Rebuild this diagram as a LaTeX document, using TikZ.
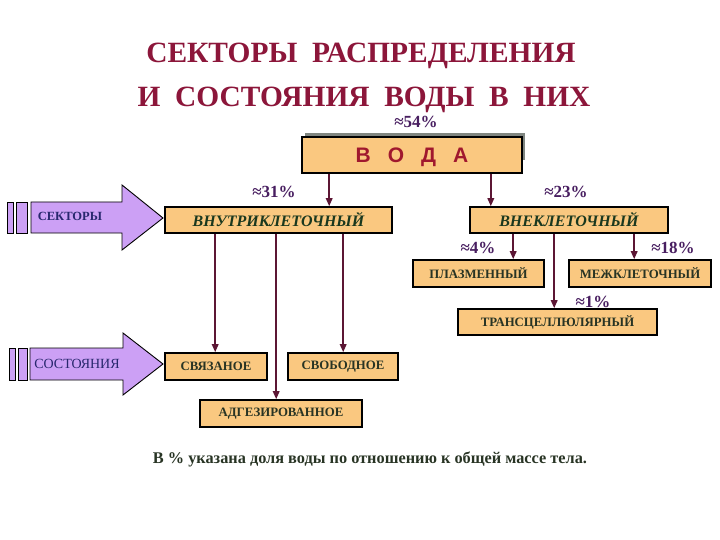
\documentclass[tikz,border=0pt]{standalone}
\usepackage{fontspec}
\setmainfont{Liberation Serif}
\newfontfamily\boxsans{Liberation Sans}
\usetikzlibrary{arrows.meta,calc}
\definecolor{titlered}{RGB}{140,22,58}
\definecolor{boxfill}{RGB}{250,200,128}
\definecolor{pctcol}{RGB}{72,30,96}
\definecolor{conncol}{RGB}{92,22,52}
\definecolor{greentext}{RGB}{26,56,30}
\definecolor{smalltext}{RGB}{40,52,36}
\definecolor{lavender}{RGB}{204,160,245}
\definecolor{navytext}{RGB}{40,40,110}
\definecolor{vodared}{RGB}{160,24,46}
\definecolor{shadowgray}{RGB}{128,134,128}
\begin{document}
\begin{tikzpicture}[x=1pt,y=-1pt,
  wbox/.style={draw=black, line width=1.6pt, fill=boxfill, inner sep=0pt},
  smallbox/.style={wbox, font=\fontsize{12.8}{13}\selectfont\bfseries, text=smalltext},
  bigbox/.style={wbox, font=\fontsize{16}{17}\selectfont\bfseries\itshape, text=greentext},
  pct/.style={font=\fontsize{17}{18}\selectfont\bfseries, text=pctcol, anchor=base},
  conn/.style={draw=conncol, line width=1.7pt, -{Triangle[length=8pt,width=6.5pt]}},
  sidearrow/.style={draw=black, line width=0.9pt, fill=lavender},
  titletext/.style={font=\fontsize{29.4}{30}\selectfont\bfseries, text=titlered, anchor=base}
]
\useasboundingbox (0,0) rectangle (720,540);
\fill[white] (0,0) rectangle (720,540);

% title
\node[titletext] (t1) at (361,63) {СЕКТОРЫ\ \ РАСПРЕДЕЛЕНИЯ};
\node[titletext] (t2) at (364,107) {И\ \ СОСТОЯНИЯ\ \ ВОДЫ\ \ В\ \ НИХ};

% voda
\fill[shadowgray] (305,133) rectangle (525,160);
\node[wbox, minimum width=220pt, minimum height=36pt, text depth=0pt,
  font=\boxsans\fontsize{21}{22}\selectfont\bfseries, text=vodared] (voda) at (412,155) {В\hspace{17pt}О\hspace{17pt}Д\hspace{17pt}А};
\node[pct] (p54) at (416,128) {≈54\%};

% sectors
\node[bigbox, minimum width=227pt, minimum height=26pt] (vnutri) at (278.5,220) {ВНУТРИКЛЕТОЧНЫЙ};
\node[bigbox, minimum width=198pt, minimum height=26pt] (vnekl) at (569,220) {ВНЕКЛЕТОЧНЫЙ};
\node[pct] (p31) at (274,198) {≈31\%};
\node[pct] (p23) at (566,198) {≈23\%};

\node[smallbox, minimum width=131pt, minimum height=27pt] (plazm) at (478.5,273.5) {ПЛАЗМЕННЫЙ};
\node[smallbox, minimum width=142pt, minimum height=27pt] (mezh) at (640,273.5) {МЕЖКЛЕТОЧНЫЙ};
\node[smallbox, minimum width=199pt, minimum height=26pt] (trans) at (557.5,322) {ТРАНСЦЕЛЛЮЛЯРНЫЙ};
\node[pct] (p4) at (478,253) {≈4\%};
\node[pct] (p18) at (673,253) {≈18\%};
\node[pct] (p1) at (593,307) {≈1\%};

% states
\node[smallbox, minimum width=102pt, minimum height=27pt] (svyaz) at (216,366.5) {СВЯЗАНОЕ};
\node[smallbox, minimum width=110pt, minimum height=27pt] (svob) at (343,366.5) {СВОБОДНОЕ};
\node[smallbox, minimum width=162pt, minimum height=27pt] (adgez) at (281,413.5) {АДГЕЗИРОВАННОЕ};

% connectors
\coordinate (c1) at ([xshift=28pt]voda.south west);
\coordinate (c2) at ([xshift=-32pt]voda.south east);
\draw[conn] (c1) -- (c1 |- vnutri.north);
\draw[conn] (c2) -- (c2 |- vnekl.north);

\coordinate (d1) at ([xshift=51pt]vnutri.south west);
\coordinate (d2) at ([xshift=112pt]vnutri.south west);
\coordinate (d3) at ([xshift=179pt]vnutri.south west);
\draw[conn] (d1) -- (d1 |- svyaz.north);
\draw[conn] (d2) -- (d2 |- adgez.north);
\draw[conn] (d3) -- (d3 |- svob.north);

\coordinate (e1) at ([xshift=44pt]vnekl.south west);
\coordinate (e2) at ([xshift=85pt]vnekl.south west);
\coordinate (e3) at ([xshift=165pt]vnekl.south west);
\draw[conn] (e1) -- (e1 |- plazm.north);
\draw[conn] (e2) -- (e2 |- trans.north);
\draw[conn] (e3) -- (e3 |- mezh.north);

% side arrows
\draw[sidearrow] (7,202) rectangle (13,233);
\draw[sidearrow] (16,202) rectangle (27,233);
\draw[sidearrow] (31,202) -- (122,202) -- (122,185) -- (163,218) -- (122,250) -- (122,233) -- (31,233) -- cycle;
\node[font=\fontsize{12.5}{13}\selectfont\bfseries, text=navytext] (sekt) at (70,216) {СЕКТОРЫ};

\draw[sidearrow] (9,348) rectangle (15,380);
\draw[sidearrow] (18,348) rectangle (27,380);
\draw[sidearrow] (30,348) -- (123,348) -- (123,333) -- (163,364) -- (123,395) -- (123,380) -- (30,380) -- cycle;
\node[font=\fontsize{14}{15}\selectfont, text=navytext] (sost) at (77,364) {СОСТОЯНИЯ};

% footnote
\node[font=\fontsize{16.3}{17}\selectfont\bfseries, text=smalltext, anchor=base] (note) at (370,463) {В \% указана доля воды по отношению к общей массе тела.};
\end{tikzpicture}
\end{document}
